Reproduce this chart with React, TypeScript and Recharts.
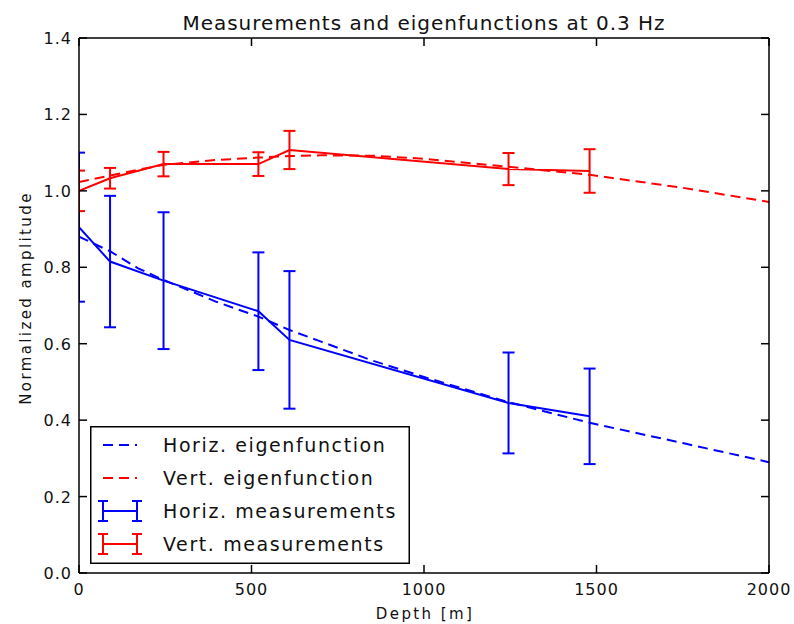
import React from 'react';
import { LineChart, Line, XAxis, YAxis, ErrorBar, Legend } from 'recharts';

// depths of the measurement points [m]
const measDepths = [0, 90, 245, 520, 610, 1245, 1480];
const horizMeas = [0.905, 0.815, 0.765, 0.685, 0.61, 0.445, 0.41];
const horizErr = [0.195, 0.172, 0.179, 0.154, 0.18, 0.132, 0.125];
const vertMeas = [1.0, 1.033, 1.07, 1.07, 1.107, 1.057, 1.052];
const vertErr = [0.053, 0.027, 0.032, 0.031, 0.05, 0.042, 0.057];

// eigenfunctions sampled along depth
const eigenDepths = [0, 90, 170, 245, 400, 520, 610, 700, 850, 1000, 1245, 1480, 1750, 2000];
const horizEigen = [0.88, 0.842, 0.798, 0.767, 0.709, 0.671, 0.636, 0.606, 0.556, 0.513, 0.447, 0.393, 0.34, 0.29];
const vertEigen = [1.023, 1.04, 1.055, 1.068, 1.081, 1.087, 1.091, 1.093, 1.092, 1.084, 1.063, 1.042, 1.008, 0.971];

const xTicks = [0, 500, 1000, 1500, 2000];
const yTicks = [0, 0.2, 0.4, 0.6, 0.8, 1.0, 1.2, 1.4];

const BLUE = '#0000ff';
const RED = '#ff0000';
const FONT = 'DejaVu Sans';

const legendItems = [
  { name: 'Horiz. eigenfunction', color: BLUE, kind: 'dash' },
  { name: 'Vert. eigenfunction', color: RED, kind: 'dash' },
  { name: 'Horiz. measurements', color: BLUE, kind: 'err' },
  { name: 'Vert. measurements', color: RED, kind: 'err' },
];

const hMeasData = measDepths.map((d, i) => ({ depth: d, amp: horizMeas[i], err: horizErr[i] }));
const vMeasData = measDepths.map((d, i) => ({ depth: d, amp: vertMeas[i], err: vertErr[i] }));
const hEigenData = eigenDepths.map((d, i) => ({ depth: d, amp: horizEigen[i] }));
const vEigenData = eigenDepths.map((d, i) => ({ depth: d, amp: vertEigen[i] }));

const TICK = 8;

const BottomTick = (p: any) => (
  <g>
    <line x1={p.x} y1={p.y} x2={p.x} y2={p.y - TICK} stroke="#000" strokeWidth={1.5} />
    <text x={p.x} y={p.y + 22} textAnchor="middle" fontSize={16} letterSpacing={1} fill="#111" fontFamily={FONT}>
      {p.payload.value}
    </text>
  </g>
);

const TopTick = (p: any) => (
  <line x1={p.x} y1={p.y} x2={p.x} y2={p.y + TICK} stroke="#000" strokeWidth={1.5} />
);

const LeftTick = (p: any) => (
  <g>
    <line x1={p.x} y1={p.y} x2={p.x + TICK} y2={p.y} stroke="#000" strokeWidth={1.5} />
    <text x={p.x - 7} y={p.y + 6} textAnchor="end" fontSize={16} letterSpacing={1} fill="#111" fontFamily={FONT}>
      {Number(p.payload.value).toFixed(1)}
    </text>
  </g>
);

const RightTick = (p: any) => (
  <line x1={p.x} y1={p.y} x2={p.x - TICK} y2={p.y} stroke="#000" strokeWidth={1.5} />
);

const LegendBox = () => (
  <svg width={320} height={138}>
    <rect x={0.75} y={0.75} width={318.5} height={136.5} fill="#fff" stroke="#000" strokeWidth={1.5} />
    {legendItems.map((item, i) => {
      const cy = 19 + i * 33;
      return (
        <g key={item.name}>
          {item.kind === 'dash' ? (
            <line x1={13} y1={cy} x2={47} y2={cy} stroke={item.color} strokeWidth={2} strokeDasharray="10 6" />
          ) : (
            <g stroke={item.color} strokeWidth={2}>
              <line x1={13} y1={cy} x2={47} y2={cy} />
              <line x1={13} y1={cy - 10} x2={13} y2={cy + 10} />
              <line x1={47} y1={cy - 10} x2={47} y2={cy + 10} />
              <line x1={8} y1={cy - 10} x2={18} y2={cy - 10} />
              <line x1={8} y1={cy + 10} x2={18} y2={cy + 10} />
              <line x1={42} y1={cy - 10} x2={52} y2={cy - 10} />
              <line x1={42} y1={cy + 10} x2={52} y2={cy + 10} />
            </g>
          )}
          <text x={73} y={cy + 7} fontSize={19} letterSpacing={1.6} fill="#111" fontFamily={FONT}>
            {item.name}
          </text>
        </g>
      );
    })}
  </svg>
);

const axisLine = { stroke: '#000', strokeWidth: 1.5 };

export default function App() {
  return (
    <div style={{ position: 'absolute', left: 0, top: 0, width: 794, height: 624, background: '#fff' }}>
      {/* error bars are not clipped by recharts, clip them to the plot area like matplotlib does */}
      <style>{'.recharts-errorBars { clip-path: url(#plot-clip); }'}</style>
      <svg width={0} height={0} style={{ position: 'absolute' }}>
        <defs>
          <clipPath id="plot-clip" clipPathUnits="userSpaceOnUse">
            <rect x={79} y={38} width={690} height={535} />
          </clipPath>
        </defs>
      </svg>
      <LineChart width={794} height={624} margin={{ top: 28, right: 15, bottom: 21, left: 39 }}>
        <XAxis xAxisId="b" type="number" dataKey="depth" domain={[0, 2000]} ticks={xTicks} interval={0}
          height={30} tickSize={0} tickMargin={0} tickLine={false} tick={BottomTick}
          axisLine={axisLine} allowDataOverflow />
        <XAxis xAxisId="t" orientation="top" type="number" dataKey="depth" domain={[0, 2000]} ticks={xTicks} interval={0}
          height={10} tickSize={0} tickMargin={0} tickLine={false} tick={TopTick}
          axisLine={axisLine} allowDataOverflow />
        <YAxis yAxisId="l" type="number" domain={[0, 1.4]} ticks={yTicks} interval={0}
          width={40} tickSize={0} tickMargin={0} tickLine={false} tick={LeftTick}
          axisLine={axisLine} allowDataOverflow />
        <YAxis yAxisId="r" orientation="right" type="number" domain={[0, 1.4]} ticks={yTicks} interval={0}
          width={10} tickSize={0} tickMargin={0} tickLine={false} tick={RightTick}
          axisLine={axisLine} allowDataOverflow />

        <Line xAxisId="t" yAxisId="r" data={hEigenData} dataKey="amp" stroke={BLUE} strokeWidth={2}
          strokeDasharray="10 6" dot={false} isAnimationActive={false} />
        <Line xAxisId="t" yAxisId="r" data={vEigenData} dataKey="amp" stroke={RED} strokeWidth={2}
          strokeDasharray="10 6" dot={false} isAnimationActive={false} />
        <Line xAxisId="b" yAxisId="l" data={hMeasData} dataKey="amp" stroke={BLUE} strokeWidth={2}
          dot={false} isAnimationActive={false}>
          <ErrorBar dataKey="err" direction="y" width={6} stroke={BLUE} strokeWidth={2} isAnimationActive={false} />
        </Line>
        <Line xAxisId="b" yAxisId="l" data={vMeasData} dataKey="amp" stroke={RED} strokeWidth={2}
          dot={false} isAnimationActive={false}>
          <ErrorBar dataKey="err" direction="y" width={6} stroke={RED} strokeWidth={2} isAnimationActive={false} />
        </Line>

        <Legend layout="vertical" align="center" verticalAlign="middle" content={LegendBox}
          wrapperStyle={{ left: 90, top: 426, width: 320, height: 138 }} />
      </LineChart>

      <svg width={794} height={624} style={{ position: 'absolute', left: 0, top: 0, pointerEvents: 'none' }}>
        <text x={424} y={30} textAnchor="middle" fontSize={20} letterSpacing={1} fill="#111" fontFamily={FONT}>
          Measurements and eigenfunctions at 0.3 Hz
        </text>
        <text x={425} y={619} textAnchor="middle" fontSize={15} letterSpacing={2.4} fill="#111" fontFamily={FONT}>
          Depth [m]
        </text>
        <text x={0} y={0} transform="translate(31,298) rotate(-90)" textAnchor="middle" fontSize={15}
          letterSpacing={2.4} fill="#111" fontFamily={FONT}>
          Normalized amplitude
        </text>
      </svg>
    </div>
  );
}
